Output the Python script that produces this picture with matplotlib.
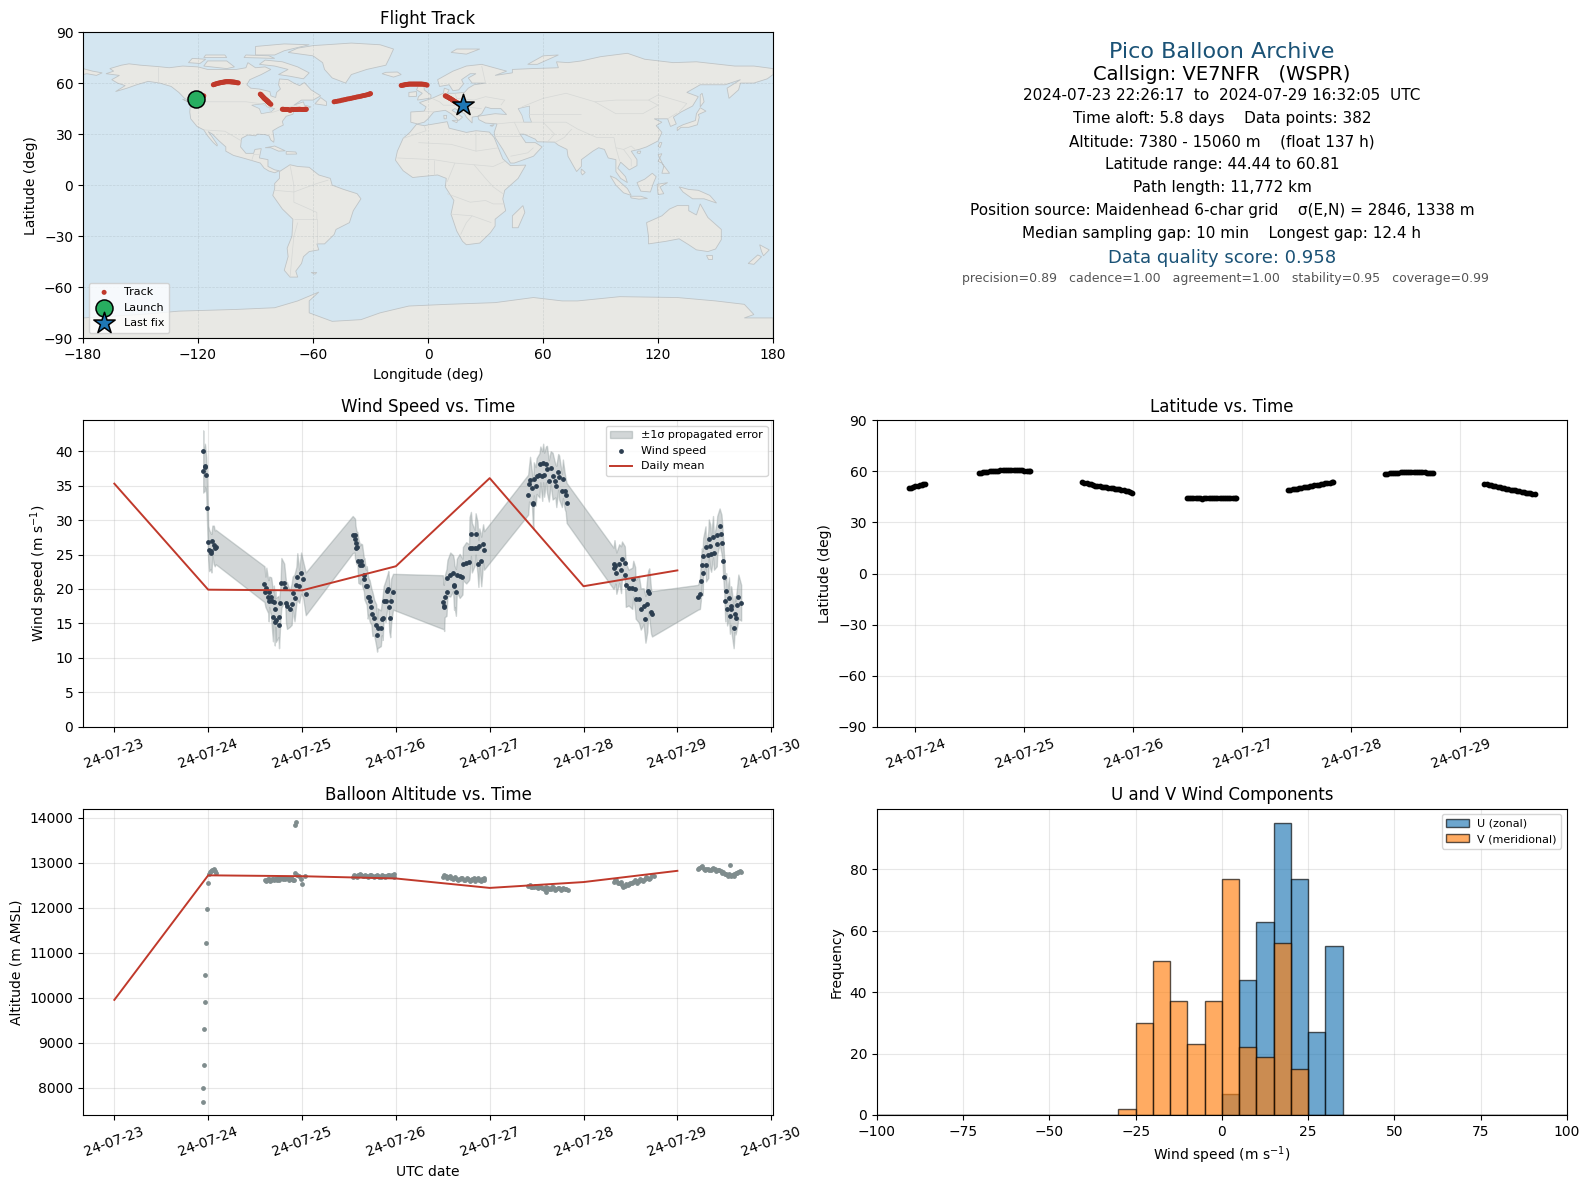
import numpy as np
import matplotlib
matplotlib.use("Agg")
import matplotlib.pyplot as plt
import matplotlib.dates as mdates
from matplotlib.collections import LineCollection

RED = "#c0392b"
NAVY = "#2c3e50"
GREY = "#7f8c8d"
BLUE = "#1a5276"
OCEAN = "#d4e6f1"
LAND = "#e8e8e4"
COAST = "#bfc4c6"

# days since 2024-07-23 00:00 UTC
start_day = mdates.date2num(np.datetime64("2024-07-23"))

# flight track (per contact)
track_t = [0.94, 0.96, 0.98, 1.00, 1.02, 1.04, 1.06, 1.07, 1.085,
           1.58, 1.60, 1.62, 1.64, 1.66, 1.68, 1.70, 1.72, 1.74, 1.76, 1.78, 1.80, 1.82, 1.84, 1.86, 1.88, 1.90, 1.92, 1.94, 1.96, 1.98, 2.00, 2.02, 2.04, 2.05,
           2.53, 2.55, 2.57, 2.59, 2.61, 2.63, 2.65, 2.67, 2.69, 2.71, 2.73, 2.75, 2.77, 2.79, 2.81, 2.83, 2.85, 2.87, 2.89, 2.91, 2.93, 2.95, 2.97, 2.985,
           3.49, 3.51, 3.53, 3.55, 3.57, 3.59, 3.61, 3.63, 3.65, 3.67, 3.69, 3.71, 3.73, 3.75, 3.77, 3.79, 3.81, 3.83, 3.85, 3.87, 3.89, 3.91, 3.93, 3.94,
           4.42, 4.44, 4.46, 4.48, 4.50, 4.52, 4.54, 4.56, 4.58, 4.60, 4.62, 4.64, 4.66, 4.68, 4.70, 4.72, 4.74, 4.76, 4.78, 4.80, 4.82, 4.83,
           5.31, 5.33, 5.35, 5.37, 5.39, 5.41, 5.43, 5.45, 5.47, 5.49, 5.51, 5.53, 5.55, 5.57, 5.59, 5.61, 5.63, 5.65, 5.67, 5.69, 5.71, 5.73, 5.75,
           6.22, 6.24, 6.26, 6.28, 6.30, 6.32, 6.34, 6.36, 6.38, 6.40, 6.42, 6.44, 6.46, 6.48, 6.50, 6.52, 6.54, 6.56, 6.58, 6.60, 6.62, 6.64, 6.66, 6.68]
track_lat = [50.2, 50.5, 50.9, 51.2, 51.5, 51.8, 52.1, 52.3, 52.5,
             59.0, 59.2, 59.4, 59.6, 59.8, 60.0, 60.1, 60.3, 60.4, 60.5, 60.6, 60.7, 60.8, 60.8, 60.8, 60.8, 60.8, 60.7, 60.7, 60.6, 60.6, 60.5, 60.4, 60.2, 60.1,
             53.5, 53.2, 52.9, 52.6, 52.3, 52.0, 51.7, 51.5, 51.2, 51.0, 50.8, 50.6, 50.4, 50.2, 50.0, 49.8, 49.6, 49.4, 49.2, 49.0, 48.7, 48.4, 48.0, 47.5,
             44.6, 44.6, 44.5, 44.5, 44.5, 44.5, 44.3, 44.0, 44.2, 44.5, 44.5, 44.5, 44.5, 44.5, 44.5, 44.6, 44.6, 44.5, 44.5, 44.5, 44.5, 44.6, 44.6, 44.6,
             49.0, 49.2, 49.4, 49.6, 49.9, 50.1, 50.3, 50.6, 50.8, 51.0, 51.3, 51.5, 51.8, 52.0, 52.2, 52.5, 52.7, 52.9, 53.2, 53.4, 53.6, 53.8,
             58.6, 58.7, 58.8, 59.0, 59.1, 59.2, 59.3, 59.4, 59.4, 59.4, 59.4, 59.4, 59.4, 59.4, 59.4, 59.4, 59.4, 59.4, 59.4, 59.3, 59.2, 59.0, 58.8,
             52.5, 52.3, 52.1, 51.8, 51.5, 51.3, 51.0, 50.8, 50.5, 50.2, 49.9, 49.6, 49.3, 49.0, 48.8, 48.5, 48.3, 48.0, 47.8, 47.5, 47.3, 47.1, 47.0, 46.9]
track_lon = [-120.5, -120.2, -119.8, -119.3, -118.8, -118.3, -117.8, -117.4, -117.0,
             -112.0, -111.5, -111.0, -110.4, -109.8, -109.2, -108.6, -108.0, -107.5, -106.9, -106.4, -105.9, -105.4, -104.9, -104.4, -103.9, -103.4, -102.9, -102.4, -101.9, -101.4, -100.9, -100.4, -99.7, -99.0,
             -87.5, -87.2, -87.0, -86.7, -86.5, -86.2, -86.0, -85.8, -85.6, -85.4, -85.2, -85.0, -84.8, -84.6, -84.4, -84.2, -84.0, -83.8, -83.6, -83.4, -83.2, -82.9, -82.5, -82.0,
             -76.0, -75.5, -75.0, -74.4, -73.8, -73.2, -72.6, -72.0, -71.5, -71.0, -70.4, -69.8, -69.2, -68.6, -68.0, -67.4, -66.8, -66.2, -65.6, -65.0, -64.5, -64.2, -63.8, -63.5,
             -49.0, -48.0, -47.0, -46.0, -45.0, -44.1, -43.2, -42.2, -41.2, -40.2, -39.2, -38.2, -37.2, -36.2, -35.2, -34.3, -33.4, -32.5, -31.6, -30.9, -30.4, -30.0,
             -14.0, -13.4, -12.8, -12.2, -11.6, -11.0, -10.4, -9.8, -9.2, -8.6, -8.0, -7.4, -6.8, -6.2, -5.6, -5.0, -4.4, -3.8, -3.2, -2.5, -1.8, -1.1, -0.5,
             9.0, 9.4, 9.8, 10.2, 10.6, 11.0, 11.4, 11.8, 12.2, 12.6, 13.0, 13.4, 13.8, 14.2, 14.6, 15.0, 15.4, 15.8, 16.2, 16.7, 17.2, 17.6, 17.9, 18.2]
launch_lon, launch_lat = -120.8, 50.6
last_lon, last_lat = 18.2, 46.9

# wind speed per contact and 1-sigma error
wind_t = [0.947, 0.947, 0.965, 0.968, 0.979, 0.990, 1.000, 1.010, 1.027, 1.035, 1.045, 1.060, 1.070, 1.080,
          1.60, 1.61, 1.62, 1.64, 1.645, 1.65, 1.67, 1.675, 1.69, 1.70, 1.71, 1.715, 1.72, 1.75, 1.755, 1.77, 1.78, 1.81, 1.82, 1.83, 1.84, 1.87, 1.89, 1.90, 1.92, 1.94, 1.95, 1.97, 1.99, 2.01, 2.04,
          2.54, 2.56, 2.565, 2.57, 2.58, 2.59, 2.60, 2.62, 2.625, 2.64, 2.66, 2.665, 2.68, 2.69, 2.70, 2.71, 2.72, 2.74, 2.75, 2.77, 2.79, 2.80, 2.805, 2.84, 2.85, 2.86, 2.87, 2.89, 2.91, 2.92, 2.93, 2.94, 2.95, 2.97,
          3.50, 3.51, 3.515, 3.52, 3.54, 3.55, 3.58, 3.61, 3.62, 3.625, 3.64, 3.65, 3.68, 3.71, 3.715, 3.75, 3.78, 3.785, 3.80, 3.81, 3.84, 3.85, 3.87, 3.88, 3.89, 3.91, 3.93, 3.94,
          4.41, 4.42, 4.43, 4.45, 4.46, 4.465, 4.47, 4.49, 4.50, 4.53, 4.54, 4.56, 4.57, 4.58, 4.60, 4.61, 4.63, 4.65, 4.67, 4.70, 4.71, 4.73, 4.74, 4.77, 4.78, 4.80, 4.81, 4.82,
          5.32, 5.33, 5.34, 5.35, 5.38, 5.40, 5.41, 5.44, 5.445, 5.45, 5.48, 5.52, 5.53, 5.55, 5.555, 5.59, 5.61, 5.64, 5.66, 5.68, 5.69, 5.70, 5.72, 5.73,
          6.22, 6.24, 6.25, 6.26, 6.27, 6.275, 6.30, 6.305, 6.33, 6.335, 6.35, 6.36, 6.38, 6.39, 6.42, 6.425, 6.45, 6.47, 6.48, 6.49, 6.50, 6.51, 6.52, 6.53, 6.55, 6.56, 6.57, 6.575, 6.60, 6.61, 6.62, 6.64, 6.65, 6.68]
wind = [40.0, 37.2, 37.7, 37.8, 36.5, 31.7, 26.8, 25.6, 25.5, 25.2, 27.0, 26.4, 25.9, 26.1,
        20.7, 19.6, 20.1, 18.9, 18.3, 19.6, 18.9, 18.2, 16.0, 18.1, 15.2, 17.1, 15.5, 16.0, 14.8, 18.0, 20.9, 20.9, 20.1, 18.0, 17.6, 17.1, 17.8, 19.4, 18.7, 20.6, 21.8, 20.4, 22.3, 21.5, 19.3,
        27.9, 27.8, 27.3, 26.7, 26.0, 26.1, 24.1, 23.5, 24.0, 23.5, 22.0, 21.5, 20.4, 20.5, 18.9, 18.9, 18.3, 17.4, 16.4, 15.8, 14.8, 13.3, 14.3, 14.3, 15.7, 15.8, 18.2, 18.2, 19.7, 20.0, 17.4, 15.8, 18.3, 19.6,
        18.1, 17.4, 17.5, 18.9, 19.5, 21.6, 22.1, 22.3, 20.6, 20.4, 19.5, 22.0, 21.9, 21.8, 23.7, 23.8, 23.9, 26.0, 28.0, 26.0, 26.0, 28.0, 26.0, 23.7, 26.2, 24.0, 26.6, 25.6,
        33.7, 35.3, 35.8, 34.6, 32.5, 32.3, 36.0, 34.9, 36.4, 36.5, 38.1, 36.4, 38.3, 36.6, 38.1, 37.4, 35.7, 37.6, 36.4, 35.7, 34.9, 37.0, 36.2, 34.3, 36.0, 34.2, 33.6, 32.5,
        23.0, 23.7, 23.4, 22.3, 23.7, 22.8, 24.3, 23.8, 22.1, 20.6, 20.2, 20.1, 21.5, 20.0, 18.5, 18.5, 17.1, 17.5, 15.6, 17.8, 19.7, 19.4, 16.7, 16.4,
        18.8, 19.3, 21.1, 23.5, 22.3, 24.8, 26.1, 23.5, 25.0, 27.3, 26.2, 25.1, 27.6, 25.2, 26.5, 27.8, 29.1, 28.0, 26.7, 24.0, 21.8, 18.3, 19.7, 17.1, 18.7, 16.1, 17.6, 17.1, 14.4, 16.4, 15.8, 17.7, 18.9, 18.0]
wind_err = [3.0, 3.2, 3.4, 3.0, 2.6, 3.0, 2.4, 3.0, 2.6, 2.8, 2.2, 2.8, 2.6, 2.5,
            2.6, 2.2, 3.0, 2.4, 3.0, 2.2, 2.8, 3.2, 3.6, 2.4, 3.4, 2.6, 3.2, 3.0, 3.4, 2.4, 3.6, 2.8, 2.2, 3.0, 3.4, 2.6, 3.0, 2.4, 3.4, 2.6, 3.4, 2.4, 3.0, 2.6, 3.1,
            2.7, 2.5, 2.9, 2.5, 2.4, 2.2, 3.2, 2.8, 2.6, 3.0, 2.4, 3.0, 2.4, 2.8, 3.2, 2.6, 3.0, 2.6, 3.2, 2.6, 3.0, 2.4, 2.9, 2.6, 2.4, 3.2, 2.2, 3.0, 2.4, 2.6, 3.6, 2.8, 3.2, 2.6,
            3.9, 3.2, 3.6, 3.0, 3.4, 2.6, 3.2, 2.6, 3.6, 3.0, 3.4, 2.4, 3.2, 2.6, 2.4, 3.0, 2.6, 4.4, 3.2, 3.6, 2.6, 3.0, 3.8, 3.4, 2.6, 3.6, 2.8, 2.8,
            2.9, 2.6, 3.4, 2.4, 3.2, 3.6, 2.4, 2.8, 2.6, 3.2, 2.6, 3.6, 2.8, 3.2, 2.6, 3.4, 3.0, 2.4, 3.4, 2.4, 3.0, 2.6, 3.2, 2.4, 2.8, 2.6, 2.4, 2.9,
            3.0, 3.4, 2.6, 3.0, 2.8, 3.4, 2.6, 2.4, 2.8, 3.2, 2.6, 3.0, 2.6, 3.2, 2.8, 3.4, 3.0, 2.6, 3.4, 4.0, 3.0, 3.6, 3.2, 3.3,
            1.8, 2.2, 2.8, 2.4, 3.2, 2.6, 3.0, 2.4, 3.4, 2.8, 3.2, 2.6, 3.0, 2.4, 3.2, 2.8, 2.6, 2.8, 2.4, 2.6, 2.4, 3.0, 2.6, 2.4, 3.0, 2.6, 2.8, 3.2, 3.0, 2.6, 2.4, 3.0, 3.2, 2.6]

# altitude per contact (m)
alt_t = [0.945, 0.950, 0.955, 0.960, 0.965, 0.970, 0.980, 0.990, 1.000, 1.010, 1.020, 1.030, 1.040, 1.050, 1.060, 1.070, 1.080,
         1.61, 1.63, 1.65, 1.67, 1.69, 1.71, 1.73, 1.75, 1.77, 1.79, 1.81, 1.83, 1.85, 1.87, 1.89, 1.91, 1.92, 1.93, 1.935, 1.95, 1.97, 1.99, 2.00, 2.03,
         2.54, 2.57, 2.60, 2.63, 2.66, 2.69, 2.72, 2.75, 2.78, 2.81, 2.84, 2.87, 2.90, 2.93, 2.96, 2.985,
         3.50, 3.53, 3.56, 3.59, 3.62, 3.65, 3.68, 3.71, 3.74, 3.77, 3.80, 3.83, 3.86, 3.89, 3.92, 3.94,
         4.41, 4.44, 4.47, 4.50, 4.53, 4.56, 4.59, 4.60, 4.62, 4.65, 4.68, 4.71, 4.74, 4.77, 4.80, 4.83,
         5.32, 5.35, 5.38, 5.41, 5.44, 5.47, 5.50, 5.53, 5.56, 5.59, 5.62, 5.65, 5.68, 5.71, 5.75,
         6.22, 6.25, 6.28, 6.31, 6.34, 6.37, 6.40, 6.43, 6.46, 6.49, 6.52, 6.55, 6.56, 6.58, 6.60, 6.62, 6.65, 6.68,
         1.62, 1.64, 1.66, 1.68, 1.70, 1.72, 1.74, 1.76, 1.78, 1.80, 1.82, 1.84, 1.86, 1.88, 1.90,
         2.555, 2.585, 2.615, 2.645, 2.675, 2.705, 2.735, 2.765, 2.795, 2.825, 2.855, 2.885, 2.915, 2.945, 2.975,
         3.515, 3.545, 3.575, 3.605, 3.635, 3.665, 3.695, 3.725, 3.755, 3.785, 3.815, 3.845, 3.875, 3.905, 3.935,
         4.425, 4.455, 4.485, 4.515, 4.545, 4.575, 4.605, 4.635, 4.665, 4.695, 4.725, 4.755, 4.785, 4.815,
         5.335, 5.365, 5.395, 5.425, 5.455, 5.485, 5.515, 5.545, 5.575, 5.605, 5.635, 5.665, 5.695, 5.735,
         6.235, 6.265, 6.295, 6.325, 6.355, 6.385, 6.415, 6.445, 6.475, 6.505, 6.535, 6.575, 6.605, 6.635, 6.665]
altitude = [7680, 8000, 8500, 9310, 9900, 10500, 11220, 11980, 12540, 12750, 12790, 12810, 12840, 12830, 12850, 12810, 12780,
            12620, 12610, 12630, 12620, 12630, 12640, 12620, 12630, 12650, 12660, 12650, 12670, 12650, 12640, 12630, 12620, 12770, 13830, 13900, 12720, 12700, 12640, 12530, 12710,
            12680, 12700, 12720, 12730, 12710, 12700, 12720, 12710, 12700, 12710, 12690, 12710, 12700, 12720, 12730, 12690,
            12690, 12700, 12680, 12660, 12670, 12640, 12630, 12650, 12620, 12640, 12610, 12650, 12630, 12620, 12640, 12610,
            12480, 12470, 12470, 12450, 12460, 12440, 12430, 12340, 12440, 12420, 12450, 12420, 12430, 12410, 12420, 12400,
            12580, 12610, 12560, 12510, 12490, 12510, 12560, 12580, 12590, 12590, 12620, 12640, 12650, 12670, 12700,
            12870, 12900, 12860, 12850, 12830, 12860, 12850, 12830, 12810, 12790, 12740, 12760, 12950, 12730, 12750, 12770, 12800, 12790,
            12590, 12640, 12600, 12640, 12610, 12630, 12650, 12610, 12660, 12640, 12630, 12670, 12620, 12650, 12610,
            12730, 12690, 12740, 12700, 12730, 12690, 12730, 12690, 12720, 12680, 12730, 12690, 12730, 12700, 12740,
            12720, 12660, 12700, 12640, 12690, 12610, 12660, 12610, 12650, 12590, 12630, 12600, 12650, 12600, 12650,
            12500, 12450, 12490, 12430, 12470, 12420, 12460, 12410, 12460, 12400, 12440, 12390, 12430, 12410,
            12620, 12540, 12580, 12470, 12530, 12530, 12540, 12610, 12560, 12640, 12600, 12680, 12640, 12720,
            12880, 12920, 12840, 12870, 12840, 12880, 12820, 12840, 12770, 12760, 12700, 12700, 12710, 12780, 12820]

# daily means, one per day
mean_days = [0, 1, 2, 3, 4, 5, 6]
mean_wind = [35.3, 19.9, 19.8, 23.3, 36.1, 20.4, 22.7]
mean_alt = [9950, 12720, 12700, 12650, 12440, 12570, 12820]

# histogram counts for 5 m/s bins from -100 to 100
hist_edges = list(range(-100, 105, 5))
u_bins = [0, 5, 10, 15, 20, 25, 30]
u_counts = [7, 44, 63, 95, 77, 27, 55]
v_bins = [-30, -25, -20, -15, -10, -5, 0, 5, 10, 15, 20]
v_counts = [2, 30, 50, 37, 23, 37, 77, 22, 19, 56, 15]

# coarse basemap outlines (lon, lat)
north_america = [(-168,65.5),(-164,67),(-166,68.5),(-160,70.5),(-156,71.3),(-150,70.5),(-141,69.7),(-135,69),(-128,70),(-120,69.5),(-115,68),(-108,68),(-100,68),(-95,69),(-94,72),(-90,69),(-85,69.5),(-82,68),(-87,65),(-93,62),(-94.5,59),(-92.5,57),(-88,56.5),(-82.5,55),(-82,52.5),(-79.5,51.5),(-79,54.5),(-77,56.5),(-78,59),(-77.5,62.4),(-73,62),(-70,60),(-67,58.5),(-64.5,60.3),(-61,56),(-56,52.5),(-60,50),(-66,50),(-70,47),(-65,49),(-64.5,47),(-61,46),(-66,44),(-70,43.5),(-70.5,41.7),(-74,40.5),(-76,37.5),(-75.5,35.3),(-78,34),(-81,32),(-80.3,27),(-80.5,25.2),(-82,26.5),(-83,29),(-85,29.7),(-89,30),(-90,29),(-94,29.5),(-97.3,27.5),(-97.8,22.5),(-95,18.7),(-91,18.7),(-90.3,21),(-87,21.5),(-88,16),(-83.5,15),(-83.5,11),(-80,9),(-77.5,8.5),(-80,7.3),(-83,8.3),(-85.5,10),(-87.5,13),(-92,14.5),(-96,15.8),(-101.5,17.5),(-105.5,20),(-105.5,22.5),(-109,26),(-112.5,30),(-114.7,31.5),(-113,29),(-110,24),(-110,23),(-112,25),(-115,29),(-117,32.5),(-120.5,34.5),(-123.8,39),(-124.3,43),(-124,47),(-122.5,48.5),(-127,51),(-130,54.5),(-134,58),(-140,60),(-146,61),(-152,59),(-157,57),(-163,55),(-158,58.5),(-162,60),(-165,62),(-161,64.5)]
greenland = [(-73,78),(-68,80.5),(-60,82),(-40,83.5),(-25,82.5),(-18,80),(-20,75),(-22,70.5),(-32,68),(-40,65),(-43,60),(-50,63),(-54,68),(-55,72),(-60,76)]
baffin = [(-62,66),(-65,62.5),(-72,64),(-78,65),(-73,68),(-80,70),(-88,71),(-85,73.5),(-76,72.5),(-68,69.5)]
victoria = [(-117,70),(-105,68.5),(-101,69.5),(-105,73),(-115,73)]
banks = [(-125,72),(-119,71.5),(-116,74),(-123,74.5)]
ellesmere = [(-90,76.5),(-80,76.5),(-75,79),(-62,82.5),(-75,83),(-90,81.5)]
devon = [(-96,75),(-80,74.5),(-83,76),(-95,76.5)]
melville = [(-117,75),(-105,75),(-106,76.5),(-116,76.5)]
newfoundland = [(-59,47.8),(-53,46.8),(-53,49),(-56,51.5)]
vancouver_is = [(-128,50.5),(-123.5,48.4),(-125,48.8)]
cuba = [(-85,22),(-80,23),(-74.5,20.2),(-78,20),(-82,22)]
hispaniola = [(-74,19.8),(-69,19.5),(-68.5,18.3),(-74,18.2)]
south_america = [(-77.5,8),(-72,12),(-68,11),(-62,10.5),(-57,6),(-51,4),(-50,0),(-44,-2.5),(-37,-5),(-35,-8),(-39,-15),(-41,-22),(-48,-26),(-49,-29),(-54,-34.5),(-58,-34.5),(-57,-38),(-62,-39),(-65,-42),(-66,-46),(-69,-50.5),(-68,-54),(-72,-54),(-75,-50),(-73,-42),(-73.5,-37),(-71,-30),(-70.5,-20),(-76,-14),(-81,-6),(-80,-2),(-80,1),(-77.5,4)]
africa = [(-6,35.8),(-2,35),(10,37.3),(11,33.5),(20,31),(25,32),(32,31.2),(34.5,28),(37,21),(39,15.5),(43,11.5),(51,11.8),(47,4),(40,-3),(39,-8),(40.5,-15),(35,-20),(35,-24),(32.5,-28),(27,-34),(20,-35),(18,-33),(15,-27),(12,-17),(13.5,-9),(9,-1),(9.5,4),(5,6),(-4,5),(-8,4.5),(-13,8.5),(-17,14.7),(-16,20),(-13,27.5),(-9.5,31)]
eurasia = [(-9,37),(-9,43),(-2,43.5),(-1,46),(-4.5,48.5),(2,51),(8,54),(8.5,57),(11,56),(10,54),(14,54),(19,54.5),(21,57),(24,59),(30,60),(23,60),(21,63),(25,65.5),(22,65.5),(17.5,62),(18.5,59.5),(16,56),(13,55.5),(11,59),(6,58),(5,62),(13,67),(20,70),(28,71),(41,67),(35,64.5),(44,66),(44,68),(54,68.5),(68,69),(67,72.5),(73,72),(80,73),(90,75.5),(104,77.5),(113,74),(128,72),(140,72.5),(160,70),(170,70),(180,68.5),(180,65),(177,62.5),(170,60),(163,60),(162,56),(157,51),(156,57),(163,62),(155,59),(142,59),(135,54.5),(141,52),(138,46.5),(132,43),(128,40),(129.5,36),(126.5,34.5),(125,39),(121,39),(118,39),(122,37),(119,35),(122,31),(120,26),(114,22.5),(110,21),(106,20),(109,15),(109,11.5),(105,9),(100.5,13.5),(99,10),(103,5),(104,1.5),(100.5,4),(98,8),(98,15),(94,16),(92,21),(89,22),(86,20),(80,15),(80,11),(77.5,8),(73,17),(72.5,21),(68,23.5),(66,25.3),(57,25.5),(56,27),(50,30),(48,30),(51,25),(56,25),(59.5,22.5),(55,17),(45,13),(43,13),(39,21),(35,28),(34.5,31),(36,36),(30,36.5),(26.5,38.5),(26,40.5),(29,41),(35,42),(41,41.5),(38,45),(33,45),(30,46),(28,42),(26,40.5),(23,40),(23,36.5),(20,40),(19,42),(14,45),(12.5,44),(18,40),(16,38),(12,42),(9,44),(3,43),(0,39),(-2,37),(-5.5,36)]
far_east_west = [(-180,68.5),(-175,67),(-170,66),(-173,64.5),(-178,65.5),(-180,65)]
britain = [(-5.5,50),(1.5,51.2),(1.5,53),(-2,56),(-2,57.7),(-5,58.5),(-6,56),(-3,54),(-5,52)]
ireland = [(-10,52),(-6,52.2),(-6,55),(-10,54.5)]
iceland = [(-24,65.5),(-18,63.5),(-14,65),(-16,66.5),(-22,66.3)]
svalbard = [(12,78),(20,77),(27,80),(15,80)]
novaya = [(52,71),(57,71),(68,76.5),(60,76)]
japan = [(130,32),(132,34),(136,34),(140.5,35.5),(141.5,40),(141,41.5),(145,43.5),(142,45.5),(140,42),(139.5,38),(133,35.5),(130,33.8)]
sakhalin = [(142,46),(144,49),(143,54),(142,53)]
hainan = [(109,19),(110.5,18.5),(111,20),(109.5,20)]
taiwan = [(120,23),(121,22),(122,25),(121,25.2)]
philippines = [(120,14),(122,13),(126,7),(122,7),(123,11),(120,18),(122,18.5)]
sri_lanka = [(80,9.5),(82,7.5),(80.5,6),(79.8,7.5)]
sumatra = [(95,5.5),(98,4),(104,-2),(106,-6),(102,-4.5),(98,0)]
java = [(105.5,-6.5),(111,-6.5),(114.5,-7.8),(110,-8.2),(106,-7.5)]
borneo = [(109,1.5),(113,3.5),(117,7),(119,5),(117.5,1),(116,-4),(111,-3.5)]
sulawesi = [(119.5,0.5),(125,1.5),(121,-1),(123,-5),(120,-5.5)]
new_guinea = [(131,-1),(136,-2.5),(141,-3),(147,-6),(150.5,-10.5),(144,-8),(138,-8),(133,-4)]
australia = [(114,-22),(122,-18),(126,-14),(130,-12),(136,-12),(136,-15),(140,-17.5),(142,-11),(146,-19),(153,-26),(153,-32),(150,-37.5),(146,-39),(140,-38),(136,-35),(131,-31.5),(124,-33),(115,-34.5),(115,-30)]
tasmania = [(145,-41),(148,-41),(148,-43.5),(146,-43.5)]
new_zealand_n = [(173,-35),(178,-38),(175,-41.5),(174,-39)]
new_zealand_s = [(172,-41),(174,-42),(170,-46.5),(167,-46)]
madagascar = [(49.5,-12),(50.5,-16),(47,-25),(44,-25),(44,-18)]
sicily = [(12.5,38),(15.5,38.2),(15,36.7)]
sardinia = [(8.2,41),(9.7,41),(9.5,39),(8.4,39)]
cyprus = [(32.3,35),(34.5,35.6),(33.5,34.6)]
falkland = [(-61,-51.3),(-58,-51.3),(-59,-52.3)]
land_shapes = [north_america, greenland, baffin, victoria, banks, ellesmere, devon, melville, newfoundland, vancouver_is,
               cuba, hispaniola, south_america, africa, eurasia, far_east_west, britain, ireland, iceland,
               svalbard, novaya, japan, sakhalin, hainan, taiwan, philippines, sri_lanka, sumatra, java, borneo,
               sulawesi, new_guinea, australia, tasmania, new_zealand_n, new_zealand_s, madagascar,
               sicily, sardinia, cyprus, falkland]
antarctica = [(-180,-78),(-150,-76),(-130,-74),(-100,-73),(-80,-72),(-68,-68),(-57,-62.8),(-62,-68),(-62,-75),(-50,-80),(-35,-79),(-25,-75),(-10,-71),(10,-70),(35,-69),(55,-66),(70,-68),(78,-68),(100,-65.5),(130,-66),(150,-68),(165,-70),(170,-76),(165,-78),(180,-78),(180,-90),(-180,-90)]
land_shapes.append(antarctica)
caspian = [(47,45),(53,46.5),(53,40),(54,37),(50,37),(49,41)]
great_lakes = [(-92,47),(-85,48),(-84,46),(-80,45),(-82,43),(-87,42),(-88,45)]
water_shapes = [caspian, great_lakes]

borders = [
    [(-141,69.7),(-141,60)], [(-123,49),(-95,49),(-88,48),(-83,46),(-82,42.5),(-75,45),(-69,47),(-67,45)],
    [(-117,32.5),(-106,31.7),(-97.3,26)], [(-92,14.5),(-91,18),(-88,18)],
    [(-70,-20),(-58,-20),(-58,-34)], [(-72,-54),(-70,-30),(-68,-22)], [(-70,-4),(-58,1),(-52,3)], [(-72,12),(-70,0),(-70,-10),(-58,-16),(-58,-20)], [(-80,-3),(-70,-4)],
    [(-13,27.5),(-1,32),(-2,35)], [(-5,25),(12,24),(25,20),(25,32)], [(25,20),(37,22)], [(-16,16),(3,15),(14,13),(24,12),(34,11),(40,14)],
    [(3,15),(3,6)], [(14,13),(10,2)], [(24,12),(30,4),(34,-1),(39,-5)], [(10,-5),(22,-10),(30,-9),(34,-11),(40,-11)], [(12,-17),(23,-18),(33,-22)], [(17,-29),(20,-22),(23,-18)],
    [(-2,43.5),(3,43)], [(2,51),(6,49),(8,47),(13,47),(19,46),(28,45)], [(14,54),(15,51),(24,50),(30,52),(40,50),(38,47)], [(28,70),(30,60)],
    [(36,36),(45,37),(48,30)], [(45,37),(60,37),(66,30),(62,25)], [(35,29),(48,29)], [(43,17),(52,19),(55,22)], [(60,37),(72,37),(78,33),(88,28),(97,28)],
    [(66,25),(71,28),(75,33)], [(52,42),(60,42),(70,42),(80,42)], [(49,46),(60,51),(72,54),(87,49),(98,50),(115,50),(120,53),(135,48),(131,43)],
    [(87,49),(98,42),(112,42),(120,47),(115,50)], [(97,28),(98,22),(102,21),(106,23),(108,21)], [(98,22),(100,14)], [(102,21),(106,15),(106,11)],
    [(125,39),(130,42.5)],
]

plt.rcParams["font.family"] = "DejaVu Sans"
fig, axes = plt.subplots(3, 2, figsize=(15.89, 11.89), dpi=100)
fig.subplots_adjust(left=83 / 1589, right=1567 / 1589, top=1 - 32 / 1189, bottom=1 - 1115 / 1189,
                    wspace=0.1505, hspace=0.2675)


def date_axis(ax):
    ax.xaxis_date()
    ax.xaxis.set_major_locator(mdates.DayLocator())
    ax.xaxis.set_major_formatter(mdates.DateFormatter("%y-%m-%d"))
    ax.tick_params(axis="x", rotation=20)
    ax.grid(True, alpha=0.3)
    ax.set_axisbelow(True)


def to_dates(days):
    return start_day + np.asarray(days, dtype=float)


# ------ flight track ------
ax = axes[0, 0]
ax.set_facecolor(OCEAN)
for shape in land_shapes:
    xy = np.array(shape)
    ax.fill(xy[:, 0], xy[:, 1], facecolor=LAND, edgecolor=COAST, linewidth=0.6, zorder=1)
for shape in water_shapes:
    xy = np.array(shape)
    ax.fill(xy[:, 0], xy[:, 1], facecolor=OCEAN, edgecolor=COAST, linewidth=0.5, zorder=1.1)
ax.add_collection(LineCollection(borders, colors="#d6d8d6", linewidths=0.5, zorder=1.2))
ax.grid(True, color="#8a9499", alpha=0.25, linewidth=0.5, linestyle="--", zorder=2)
ax.scatter(track_lon, track_lat, s=13, color=RED, zorder=3, label="Track", edgecolors="none")
ax.scatter([launch_lon], [launch_lat], s=150, color="#27ae60", edgecolors="black", linewidths=1.1, zorder=4, label="Launch")
ax.scatter([last_lon], [last_lat], s=260, marker="*", color="#1f77b4", edgecolors="black", linewidths=1.1, zorder=5, label="Last fix")
ax.set_xlim(-180, 180)
ax.set_ylim(-90, 90)
ax.set_xticks(range(-180, 181, 60))
ax.set_yticks(range(-90, 91, 30))
ax.set_xlabel("Longitude (deg)")
ax.set_ylabel("Latitude (deg)")
ax.set_title("Flight Track")
ax.legend(loc="lower left", fontsize=8)

# ------ summary text ------
ax = axes[0, 1]
ax.axis("off")
info_lines = [
    (0.9335, 0.5, "Pico Balloon Archive", 16, BLUE),
    (0.8615, 0.5, "Callsign: VE7NFR   (WSPR)", 14, "black"),
    (0.793, 0.5, "2024-07-23 22:26:17  to  2024-07-29 16:32:05  UTC", 11, "black"),
    (0.718, 0.5, "Time aloft: 5.8 days    Data points: 382", 11, "black"),
    (0.642, 0.5, "Altitude: 7380 - 15060 m    (float 137 h)", 11, "black"),
    (0.568, 0.5, "Latitude range: 44.44 to 60.81", 11, "black"),
    (0.492, 0.5, "Path length: 11,772 km", 11, "black"),
    (0.417, 0.5, "Position source: Maidenhead 6-char grid    σ(E,N) = 2846, 1338 m", 11, "black"),
    (0.341, 0.5, "Median sampling gap: 10 min    Longest gap: 12.4 h", 11, "black"),
    (0.262, 0.5, "Data quality score: 0.958", 13, BLUE),
    (0.196, 0.505, "precision=0.89   cadence=1.00   agreement=1.00   stability=0.95   coverage=0.99", 9, "#555555"),
]
for y, x, line, size, color in info_lines:
    ax.text(x, y, line, transform=ax.transAxes, ha="center", va="center", fontsize=size, color=color)

# ------ wind speed ------
ax = axes[1, 0]
order = np.argsort(wind_t)
wt = to_dates(wind_t)[order]
ws = np.array(wind)[order]
we = np.array(wind_err)[order]
ax.fill_between(wt, ws - we, ws + we, color=GREY, alpha=0.35, label="±1σ propagated error")
ax.scatter(wt, ws, s=6, color=NAVY, label="Wind speed", zorder=3)
ax.plot(to_dates(mean_days), mean_wind, color=RED, linewidth=1.4, label="Daily mean", zorder=4)
ax.set_xlim(start_day - 0.334, start_day + 7.02)
ax.set_ylim(0, 44.5)
ax.set_ylabel("Wind speed (m s$^{-1}$)")
ax.set_title("Wind Speed vs. Time")
date_axis(ax)
ax.legend(loc="upper right", fontsize=8)

# ------ latitude ------
ax = axes[1, 1]
ax.scatter(to_dates(track_t), track_lat, s=10, color="black", zorder=3)
ax.set_xlim(start_day + 0.647, start_day + 6.977)
ax.set_ylim(-90, 90)
ax.set_yticks(range(-90, 91, 30))
ax.set_ylabel("Latitude (deg)")
ax.set_title("Latitude vs. Time")
date_axis(ax)

# ------ altitude ------
ax = axes[2, 0]
ax.scatter(to_dates(alt_t), altitude, s=6, color=GREY, zorder=3)
ax.plot(to_dates(mean_days), mean_alt, color=RED, linewidth=1.4, zorder=4)
ax.set_xlim(start_day - 0.334, start_day + 7.02)
ax.set_ylim(7390, 14203)
ax.set_xlabel("UTC date")
ax.set_ylabel("Altitude (m AMSL)")
ax.set_title("Balloon Altitude vs. Time")
date_axis(ax)

# ------ u and v histogram ------
ax = axes[2, 1]
ax.hist(np.array(u_bins) + 2.5, bins=hist_edges, weights=u_counts, color="#1f77b4", alpha=0.65, edgecolor="black", label="U (zonal)")
ax.hist(np.array(v_bins) + 2.5, bins=hist_edges, weights=v_counts, color="#ff7f0e", alpha=0.65, edgecolor="black", label="V (meridional)")
ax.set_xlim(-100, 100)
ax.set_xlabel("Wind speed (m s$^{-1}$)")
ax.set_ylabel("Frequency")
ax.set_title("U and V Wind Components")
ax.grid(True, alpha=0.3)
ax.set_axisbelow(True)
ax.legend(loc="upper right", fontsize=8)

fig.savefig("out.png", dpi=100)
